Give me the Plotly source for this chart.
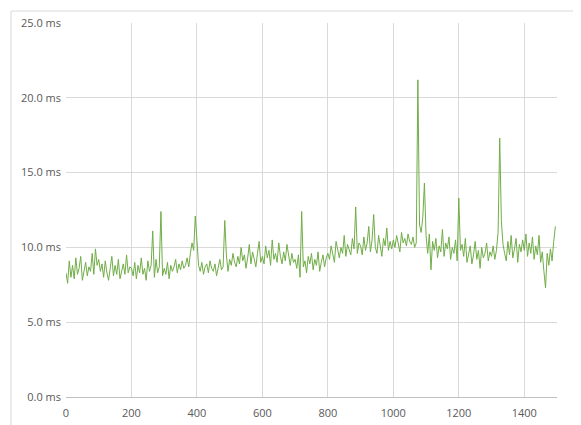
import plotly.graph_objects as go

step = 5
latency_ms = [
    # 0-95
    8.3, 7.6, 9.1, 8.0, 8.8, 7.9, 9.3, 8.2, 8.6, 9.4, 7.8, 8.5, 9.0, 8.1, 8.7, 8.4, 9.6, 8.2, 9.9, 8.8,
    # 100-195
    9.2, 8.4, 8.9, 8.0, 9.1, 8.3, 7.8, 8.6, 9.4, 8.1, 8.8, 8.2, 9.2, 7.9, 8.5, 8.9, 8.2, 9.5, 8.3, 8.7,
    # 200-295
    8.6, 8.1, 9.0, 7.9, 8.8, 8.3, 9.3, 8.2, 8.6, 7.8, 9.1, 8.4, 8.8, 11.1, 8.0, 9.2, 8.3, 8.7, 12.4, 8.1,
    # 300-395
    8.6, 8.2, 9.0, 7.9, 8.8, 8.4, 8.7, 9.2, 8.3, 8.9, 8.5, 9.1, 8.6, 8.8, 9.3, 8.7, 9.6, 10.3, 9.8, 12.1,
    # 400-495
    10.5, 8.8, 8.4, 9.0, 8.2, 8.7, 8.9, 8.3, 9.1, 8.6, 8.4, 8.9, 8.1, 8.8, 9.2, 8.5, 8.7, 11.8, 9.5, 8.4,
    # 500-595
    9.2, 8.8, 9.6, 9.0, 8.7, 9.4, 8.9, 10.0, 9.1, 9.5, 8.6, 9.3, 10.2, 8.9, 9.7, 9.2, 8.7, 9.6, 10.4, 9.0,
    # 600-695
    9.4, 8.9, 10.1, 9.3, 9.8, 8.8, 10.5, 9.2, 9.6, 9.0, 10.3, 9.4, 8.9, 9.7, 9.1, 10.2, 9.3, 8.8, 9.6, 9.0,
    # 700-795
    9.2, 8.6, 9.5, 8.0, 12.4, 8.7, 9.1, 8.3, 9.4, 8.9, 9.6, 8.5, 9.2, 8.8, 9.7, 8.4, 9.0, 9.5, 8.7, 9.3,
    # 800-895
    9.6, 9.2, 10.1, 9.5, 9.0, 10.4, 9.7, 9.3, 10.0, 9.6, 10.8, 9.4, 10.2, 9.8, 9.5, 10.6, 9.9, 12.7, 9.6, 10.3,
    # 900-995
    10.1, 9.5, 10.7, 9.8, 10.3, 11.4, 9.7, 10.5, 12.2, 10.0, 9.6, 10.8, 10.2, 9.4, 10.6, 10.1, 11.3, 9.8, 10.4, 9.9,
    # 1000-1095
    10.5, 10.0, 10.8, 10.2, 9.7, 11.0, 10.3, 10.6, 10.1, 10.9, 10.4, 10.2, 10.7, 10.0, 10.3, 21.2, 11.5, 11.0, 12.0, 14.3,
    # 1100-1195
    10.8, 9.6, 10.9, 8.5, 10.4, 9.8, 10.6, 9.3, 10.1, 9.7, 11.2, 9.4, 10.3, 9.9, 10.7, 9.2, 10.0, 9.6, 10.5, 9.1,
    # 1200-1295
    13.3, 9.8, 10.2, 9.4, 10.6, 9.0, 9.7, 10.1, 8.9, 9.5, 10.4, 9.2, 9.8, 8.6, 10.0, 9.3, 9.6, 10.3, 9.1, 9.7,
    # 1300-1395
    9.4, 10.1, 9.2, 9.8, 11.0, 17.3, 11.8, 10.2, 9.6, 9.1, 10.4, 9.5, 10.8, 9.3, 9.9, 10.6, 9.0, 10.2, 9.7, 10.5,
    # 1400-1495
    9.8, 10.9, 9.4, 10.3, 9.6, 10.7, 9.2, 10.1, 9.5, 10.8, 9.0, 9.7, 8.4, 7.3, 9.6, 8.8, 9.9, 9.1, 10.4, 11.4,
]
request_no = [i * step for i in range(len(latency_ms))]

fig = go.Figure(go.Scatter(
    x=request_no, y=latency_ms, mode="lines",
    line=dict(color="#70ad47", width=1),
))
fig.update_layout(
    width=581, height=425,
    margin=dict(l=58, r=32, t=15, b=36),
    paper_bgcolor="white", plot_bgcolor="white",
    font=dict(family="Open Sans", size=11, color="#595959"),
    showlegend=False,
)
fig.update_xaxes(range=[0, 1500], tickvals=[0, 200, 400, 600, 800, 1000, 1200, 1400],
                 showgrid=True, gridcolor="#d9d9d9", showline=True, linecolor="#bfbfbf",
                 zeroline=False, ticks="", automargin=False, ticklabelstandoff=6)
fig.update_yaxes(range=[0, 25], dtick=5, tickformat=".1f", ticksuffix=" ms",
                 showgrid=True, gridcolor="#d9d9d9", zeroline=False, ticks="",
                 automargin=False, ticklabelstandoff=4)
fig.add_shape(type="rect", xref="paper", yref="paper", x0=-0.112, y0=-0.083, x1=1.057, y1=1.032,
              line=dict(color="#d9d9d9", width=1))
fig.write_html("out.html")
